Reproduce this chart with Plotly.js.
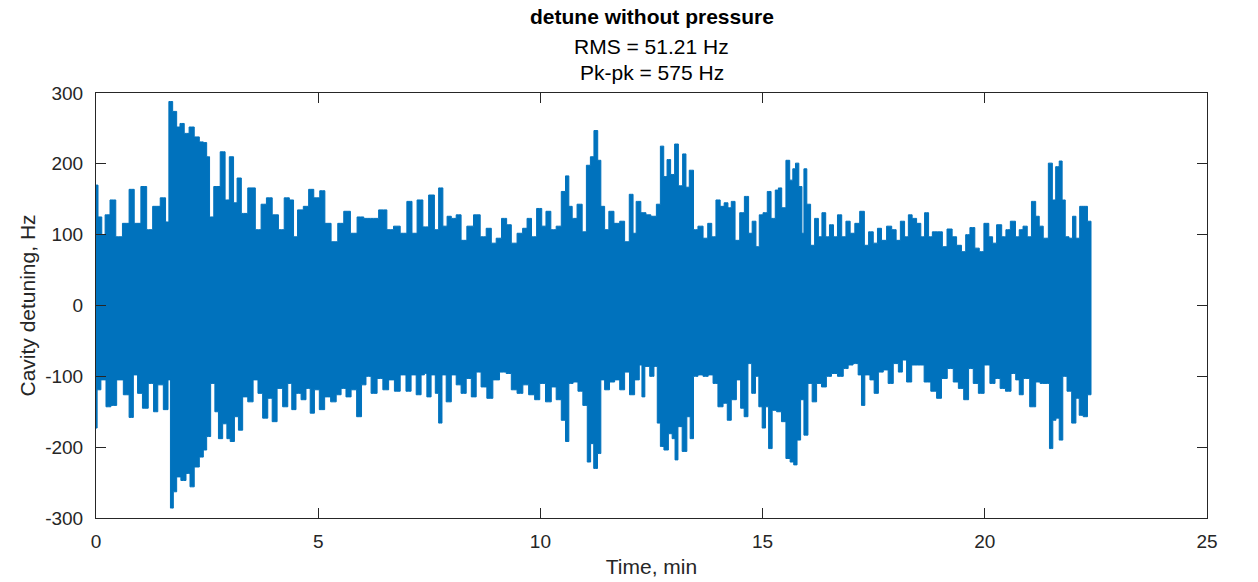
<!DOCTYPE html>
<html>
<head>
<meta charset="utf-8">
<script src="https://cdn.plot.ly/plotly-3.0.1.min.js"></script>
<style>
html,body{margin:0;padding:0;background:#ffffff;}
#chart{width:1258px;height:582px;}
</style>
</head>
<body>
<div id="chart"></div>
<script>
// Upper envelope of the detuning trace (time in min, detuning in Hz)
const tUpper = [0,0.09,0.17,0.24,0.39,0.50,0.69,0.80,0.92,1.10,1.18,1.37,1.52,1.61,1.67,1.78,1.85,1.93,2.04,2.15,2.27,2.38,2.45,2.53,2.58,2.72,2.87,2.94,3.06,3.13,3.22,3.32,3.51,3.66,3.77,3.90,4.03,4.18,4.29,4.41,4.48,4.59,4.74,4.83,4.97,5.10,5.20,5.38,5.50,5.65,5.80,5.95,6.10,6.25,6.47,6.62,6.77,6.92,7.07,7.15,7.30,
7.41,7.56,7.67,7.75,7.86,7.94,8.05,8.16,8.27,8.42,8.57,8.72,8.84,8.95,9.06,9.19,9.29,9.40,9.55,9.65,9.75,9.85,9.98,10.08,10.17,10.30,10.41,10.53,10.60,10.68,10.75,10.90,10.98,11.09,11.16,11.25,11.33,11.39,11.50,11.58,11.73,11.84,11.95,12.05,12.12,12.19,12.33,12.42,12.55,12.67,12.73,12.82,12.88,12.98,13.06,13.15,13.25,13.30,13.40,13.49,13.60,13.72,13.81,13.90,14.00,14.09,14.18,14.26,14.33,14.43,14.54,14.64,14.73,14.80,14.90,
14.95,15.07,15.14,15.24,15.33,15.38,15.48,15.57,15.65,15.71,15.77,15.86,15.91,15.95,16.04,16.12,16.22,16.29,16.38,16.46,16.55,16.64,16.73,16.83,16.92,17.02,17.13,17.24,17.34,17.43,17.55,17.62,17.73,17.85,17.96,18.05,18.15,18.24,18.32,18.41,18.52,18.60,18.69,18.78,18.86,19.01,19.08,19.22,19.31,19.42,19.53,19.61,19.72,19.83,19.92,20.04,20.14,20.21,20.32,20.44,20.51,20.64,20.74,20.81,20.91,21.00,21.10,21.19,21.26,21.37,21.49,21.55,21.64,21.71,21.77,21.85,21.94,22.01,22.09,22.18,22.27,22.35,22.39];
const upperHz = [170,125,100,128,149,97,116,164,116,168,107,140,152,118,288,274,252,257,243,252,238,231,230,210,125,168,217,149,210,145,180,130,166,107,143,152,128,107,152,149,97,135,140,164,152,162,116,90,116,133,102,125,123,123,135,107,112,102,147,102,149,
111,156,107,166,112,126,123,128,92,112,128,97,109,88,95,123,114,88,102,109,123,97,137,112,133,107,112,161,183,140,123,143,104,198,210,247,205,140,107,133,116,119,90,157,102,147,131,128,126,143,225,182,206,185,228,169,214,167,191,107,112,95,116,97,149,140,145,138,147,92,131,154,102,119,83,
128,131,161,123,163,166,138,205,177,193,201,168,102,193,143,85,123,97,131,97,114,97,128,97,119,102,116,133,85,104,88,109,92,112,107,92,119,97,128,123,116,97,131,97,104,104,83,108,97,85,76,100,110,81,76,116,97,88,114,97,107,119,97,107,112,97,147,126,112,95,201,149,196,204,149,97,95,126,95,140,140,119,119];

// Lower envelope of the detuning trace
const tLower = [0,0.05,0.17,0.28,0.39,0.54,0.69,0.80,0.88,0.99,1.10,1.25,1.34,1.44,1.59,1.65,1.70,1.78,1.85,1.97,2.08,2.15,2.27,2.38,2.45,2.53,2.63,2.72,2.79,2.91,2.98,3.06,3.17,3.24,3.36,3.47,3.60,3.69,3.81,3.92,4.01,4.14,4.26,4.37,4.44,4.56,4.67,4.78,4.86,4.97,5.08,5.21,5.35,5.46,5.57,5.68,5.80,5.93,6.02,6.13,6.25,6.40,6.51,6.66,6.77,6.92,7.03,7.15,7.26,7.37,
7.41,7.48,7.60,7.67,7.75,7.82,7.94,8.05,8.16,8.27,8.39,8.50,8.61,8.72,8.87,8.99,9.17,9.29,9.40,9.55,9.66,9.81,9.93,10.04,10.19,10.30,10.41,10.53,10.60,10.68,10.79,10.90,11.01,11.10,11.16,11.24,11.33,11.39,11.50,11.61,11.73,11.84,11.95,12.06,12.18,12.27,12.30,12.40,12.52,12.59,12.67,12.73,12.83,12.93,13.00,13.06,13.13,13.25,13.34,13.40,13.49,13.60,13.72,13.83,13.94,14.05,14.17,14.24,14.35,14.47,14.54,14.63,14.71,14.80,14.88,
14.95,15.03,15.10,15.17,15.26,15.37,15.48,15.57,15.67,15.73,15.82,15.89,15.97,16.07,16.16,16.27,16.38,16.49,16.61,16.76,16.87,16.98,17.09,17.21,17.24,17.36,17.47,17.55,17.66,17.77,17.88,18.00,18.11,18.18,18.30,18.41,18.56,18.71,18.86,18.97,19.08,19.23,19.35,19.46,19.59,19.68,19.80,19.91,20.06,20.17,20.29,20.40,20.53,20.65,20.74,20.81,20.92,21.10,21.19,21.30,21.41,21.50,21.56,21.64,21.71,21.80,21.90,22.01,22.09,22.16,22.27,22.35,22.39];
const lowerHz = [-173,-119,-105,-143,-141,-105,-126,-158,-98,-124,-145,-110,-150,-112,-147,-105,-286,-263,-242,-247,-237,-256,-228,-214,-204,-185,-110,-150,-188,-167,-188,-192,-157,-176,-129,-136,-105,-124,-159,-131,-164,-117,-143,-110,-147,-124,-133,-117,-152,-119,-147,-129,-136,-126,-117,-129,-119,-157,-112,-100,-124,-103,-119,-105,-121,-98,-121,-98,-126,-98,
-96,-129,-98,-124,-166,-98,-136,-98,-112,-124,-103,-129,-94,-115,-131,-105,-94,-96,-119,-124,-112,-126,-133,-110,-136,-115,-133,-162,-192,-110,-108,-121,-141,-221,-195,-230,-209,-105,-119,-108,-105,-119,-94,-126,-105,-84,-129,-86,-100,-86,-166,-199,-204,-181,-188,-218,-171,-206,-157,-188,-100,-98,-100,-98,-110,-143,-138,-162,-133,-105,-145,-157,-82,-124,-100,
-143,-173,-143,-202,-148,-150,-164,-216,-221,-225,-190,-133,-183,-110,-136,-110,-115,-100,-96,-100,-89,-84,-82,-98,-141,-98,-105,-124,-94,-91,-110,-82,-94,-77,-108,-84,-84,-108,-121,-131,-103,-89,-108,-117,-133,-89,-110,-124,-84,-110,-103,-117,-121,-96,-105,-126,-103,-143,-108,-110,-110,-202,-162,-159,-190,-100,-121,-166,-131,-155,-157,-126,-126];

const xTicks = [0, 5, 10, 15, 20, 25];
const yTicks = [-300, -200, -100, 0, 100, 200, 300];
const titleMain = 'detune without pressure';
const titleRms = 'RMS = 51.21 Hz';
const titlePkpk = 'Pk-pk = 575 Hz';
const xLabel = 'Time, min';
const yLabel = 'Cavity detuning, Hz';

const lineColor = '#0072BD';
const axisColor = '#262626';
const fontFamily = '"Liberation Sans", Arial, Helvetica, sans-serif';

// One closed band: upper envelope forward, lower envelope backward
const bandX = tUpper.concat(tLower.slice().reverse());
const bandY = upperHz.concat(lowerHz.slice().reverse());

const traces = [{
  type: 'scatter',
  mode: 'lines',
  x: bandX,
  y: bandY,
  fill: 'toself',
  fillcolor: lineColor,
  line: {color: lineColor, width: 1, shape: 'hvh'},
  hoverinfo: 'skip',
  showlegend: false
}];

const W = 1258, H = 582;
const M = {l: 96, r: 51, t: 93, b: 64};
const plotH = H - M.t - M.b;
function yPaper(px) { return 1 + (M.t - px) / plotH; }

const axisCommon = {
  showgrid: false,
  zeroline: false,
  showline: true,
  linecolor: axisColor,
  linewidth: 1,
  mirror: 'ticks',
  ticks: 'inside',
  ticklen: 10,
  tickwidth: 1,
  tickcolor: axisColor,
  tickfont: {family: fontFamily, size: 19, color: axisColor},
  fixedrange: true
};

const layout = {
  width: W,
  height: H,
  margin: M,
  paper_bgcolor: '#ffffff',
  plot_bgcolor: '#ffffff',
  font: {family: fontFamily, color: axisColor},
  showlegend: false,
  xaxis: Object.assign({}, axisCommon, {
    range: [0, 25],
    tickmode: 'array',
    tickvals: xTicks,
    ticktext: xTicks.map(String),
    ticklabelstandoff: 6,
    title: {text: xLabel, font: {family: fontFamily, size: 21, color: axisColor}, standoff: 8}
  }),
  yaxis: Object.assign({}, axisCommon, {
    range: [-300, 300],
    tickmode: 'array',
    tickvals: yTicks,
    ticktext: yTicks.map(String),
    ticklabelstandoff: 8,
    title: {text: yLabel, font: {family: fontFamily, size: 21, color: axisColor}, standoff: 3}
  }),
  annotations: [
    {text: '<b>' + titleMain + '</b>', xref: 'paper', yref: 'paper', x: 0.5, y: yPaper(16), xanchor: 'center', yanchor: 'middle', showarrow: false, font: {family: fontFamily, size: 21, color: '#000000'}},
    {text: titleRms, xref: 'paper', yref: 'paper', x: 0.5, y: yPaper(46), xanchor: 'center', yanchor: 'middle', showarrow: false, font: {family: fontFamily, size: 21, color: '#000000'}},
    {text: titlePkpk, xref: 'paper', yref: 'paper', x: 0.5, y: yPaper(73), xanchor: 'center', yanchor: 'middle', showarrow: false, font: {family: fontFamily, size: 21, color: '#000000'}}
  ]
};

Plotly.newPlot('chart', traces, layout, {displayModeBar: false, staticPlot: true});
</script>
</body>
</html>
